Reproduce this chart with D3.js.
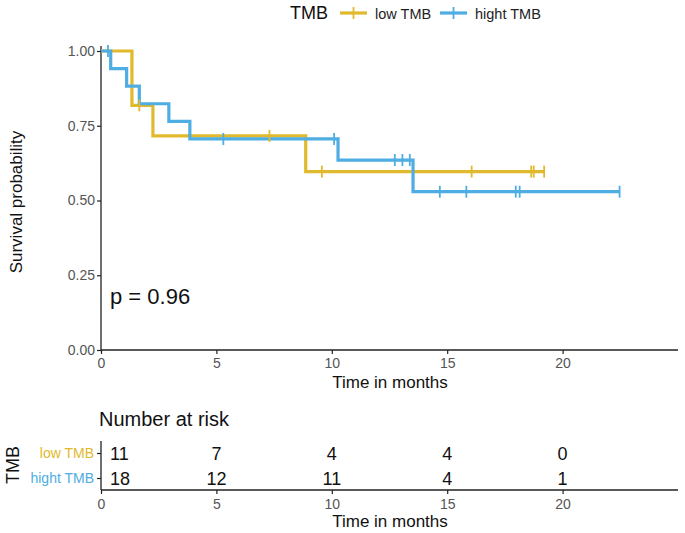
<!DOCTYPE html>
<html><head><meta charset="utf-8">
<script src="https://cdn.jsdelivr.net/npm/d3@7"></script>
<style>body{margin:0;background:#fff}svg{display:block;font-family:"Liberation Sans",Arial,sans-serif}</style>
</head><body><svg id="c" width="685" height="533"></svg>
<script>
// ---- data ----
const groups = ["low TMB", "hight TMB"];
const colors = ["#E1B92C", "#4EADE2"];
const lowTimes   = [1.34, 1.34, 1.66, 2.25, 7.3, 8.87, 9.57, 16.06, 18.64, 18.75, 19.2];
const lowStatus  = [1, 1, 0, 1, 0, 1, 0, 0, 0, 0, 0];
const highTimes  = [0.3, 0.42, 1.11, 1.66, 2.94, 3.85, 5.3, 10.1, 10.27, 12.73, 13.06, 13.38, 13.52, 14.68, 15.83, 17.97, 18.14, 22.47];
const highStatus = [0, 1, 1, 1, 1, 1, 0, 0, 1, 0, 0, 0, 1, 0, 0, 0, 0, 0];
const xTicks = [0, 5, 10, 15, 20];
const yTicks = [0, 0.25, 0.5, 0.75, 1];
const riskTimes = [0, 5, 10, 15, 20];
const lowRisk  = [11, 7, 4, 4, 0];
const highRisk = [18, 12, 11, 4, 1];
const pText = "p = 0.96";

// Kaplan-Meier estimate
function km(times, status) {
  const idx = times.map((t, i) => i).sort((a, b) => times[a] - times[b]);
  let n = times.length, s = 1;
  const steps = [{t: 0, s: 1}], cens = [];
  const uniq = Array.from(new Set(idx.map(i => times[i])));
  uniq.forEach(t => {
    const at = idx.filter(i => times[i] === t);
    const d = at.filter(i => status[i] === 1).length;
    const c = at.length - d;
    if (d > 0) { s = s * (n - d) / n; steps.push({t, s}); }
    if (c > 0) cens.push({t, s});
    n -= at.length;
  });
  steps.push({t: d3.max(times), s});
  return {steps, cens};
}

const FF = "Liberation Sans, Arial, sans-serif";
const svg = d3.select("#c");
const x = d3.scaleLinear().domain([0, 25]).range([101, 678]);
const y = d3.scaleLinear().domain([0, 1]).range([350, 51]);
const tickGrey = "#555";

function styleAxis(g, domainPath) {
  g.select(".domain").attr("d", domainPath).attr("stroke", "#222").attr("stroke-width", 1.3);
  g.selectAll(".tick line").attr("stroke", "#222").attr("stroke-width", 1.2);
  g.selectAll(".tick text").attr("fill", tickGrey).attr("font-size", 14).attr("font-family", FF);
}

// ---- main axes ----
const gy = svg.append("g").attr("transform", "translate(101,0)")
  .call(d3.axisLeft(y).tickValues(yTicks).tickFormat(d3.format(".2f")).tickSize(4).tickPadding(2));
styleAxis(gy, "M0,46V350");

const gx = svg.append("g").attr("transform", "translate(0,350)")
  .call(d3.axisBottom(x).tickValues(xTicks).tickSize(4).tickPadding(4));
styleAxis(gx, "M101,0H678");

svg.append("text").attr("x", 390).attr("y", 388).attr("text-anchor", "middle")
  .attr("font-size", 17).attr("fill", "#111").text("Time in months");
svg.append("text").attr("transform", "translate(22,202) rotate(-90)").attr("text-anchor", "middle")
  .attr("font-size", 17).attr("fill", "#111").text("Survival probability");

// ---- curves ----
const fits = [km(lowTimes, lowStatus), km(highTimes, highStatus)];
const line = d3.line().x(d => x(d.t)).y(d => y(d.s)).curve(d3.curveStepAfter);
fits.forEach((f, i) => {
  svg.append("path").datum(f.steps).attr("d", line).attr("fill", "none")
    .attr("stroke", colors[i]).attr("stroke-width", 3.2).attr("stroke-linejoin", "miter");
});
fits.forEach((f, i) => {
  svg.append("g").selectAll("line").data(f.cens).join("line")
    .attr("x1", d => x(d.t)).attr("x2", d => x(d.t))
    .attr("y1", d => y(d.s) - 6).attr("y2", d => y(d.s) + 6)
    .attr("stroke", colors[i]).attr("stroke-width", 1.8);
});

svg.append("text").attr("x", 110).attr("y", 304).attr("font-size", 22).attr("fill", "#111").text(pText);

// ---- legend ----
const lg = svg.append("g");
lg.append("text").attr("x", 290).attr("y", 19).attr("font-size", 18).attr("fill", "#111").text("TMB");
const keyX = [340, 440], labX = [375, 475];
groups.forEach((g, i) => {
  lg.append("line").attr("x1", keyX[i]).attr("x2", keyX[i] + 27).attr("y1", 13).attr("y2", 13)
    .attr("stroke", colors[i]).attr("stroke-width", 3.2);
  lg.append("line").attr("x1", keyX[i] + 13.5).attr("x2", keyX[i] + 13.5).attr("y1", 7).attr("y2", 19)
    .attr("stroke", colors[i]).attr("stroke-width", 1.8);
  lg.append("text").attr("x", labX[i]).attr("y", 18.5).attr("font-size", 14.5).attr("fill", "#222").text(g);
});

// ---- risk table ----
svg.append("text").attr("x", 99).attr("y", 426).attr("font-size", 20).attr("fill", "#111").text("Number at risk");
const rowY = d3.scalePoint().domain(groups).range([453, 478]);
const ry = svg.append("g").attr("transform", "translate(101,0)")
  .call(d3.axisLeft(rowY).tickSize(4).tickPadding(3));
styleAxis(ry, "M0,441V490");
ry.selectAll(".tick text").attr("fill", (d, i) => colors[i]);
const rx = svg.append("g").attr("transform", "translate(0,490)")
  .call(d3.axisBottom(x).tickValues(xTicks).tickSize(4).tickPadding(5));
styleAxis(rx, "M101,0H678");
svg.append("text").attr("x", 390).attr("y", 527).attr("text-anchor", "middle")
  .attr("font-size", 17).attr("fill", "#111").text("Time in months");
svg.append("text").attr("transform", "translate(19,465) rotate(-90)").attr("text-anchor", "middle")
  .attr("font-size", 18).attr("fill", "#111").text("TMB");

[lowRisk, highRisk].forEach((arr, gi) => {
  svg.append("g").selectAll("text").data(arr).join("text")
    .attr("x", (d, i) => i === 0 ? x(riskTimes[i]) + 9 : x(riskTimes[i]))
    .attr("text-anchor", (d, i) => i === 0 ? "start" : "middle")
    .attr("y", rowY(groups[gi]) + 6.5).attr("font-size", 18).attr("fill", "#111").text(d => d);
});
</script></body></html>
